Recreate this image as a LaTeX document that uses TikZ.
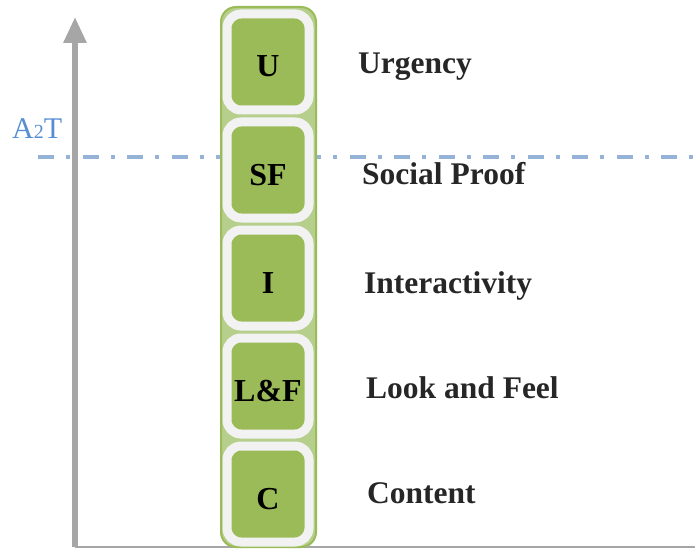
\documentclass[tikz,border=0pt]{standalone}
\usepackage{fontspec}
\setmainfont{Liberation Serif}
\usetikzlibrary{arrows.meta}
\definecolor{cellgreen}{HTML}{9BBB59}
\definecolor{columngreen}{HTML}{B7CF8C}
\definecolor{cellrim}{HTML}{F2F2F2}
\definecolor{axisgray}{HTML}{A6A6A6}
\definecolor{a2tblue}{HTML}{558ED5}
\definecolor{dashblue}{HTML}{95B3D7}
\definecolor{textgray}{HTML}{262626}
\begin{document}
\begin{tikzpicture}[x=1pt, y=-1pt,
    cell/.style={draw=cellrim, line width=9pt, fill=cellgreen, rounded corners=14pt,
      minimum width=82pt, minimum height=96pt, inner sep=0pt,
      text height=30pt, text depth=0pt, font=\fontsize{32}{32}\selectfont\bfseries},
    itemtext/.style={anchor=base west, inner sep=0pt, text=textgray,
      font=\fontsize{31.5}{31.5}\selectfont\bfseries}]
  \useasboundingbox (0, 0) rectangle (695, 548);
  \coordinate (origin) at (75, 547);
  \coordinate (top) at (75, 17);
  \coordinate (floor) at (695, 547);
  \coordinate (limit west) at (38, 157);
  \coordinate (limit east) at (695, 157);
  % threshold
  \draw [dashblue, line width=4pt, dash pattern=on 16pt off 12.25pt on 4pt off 12.25pt] (limit west) -- (limit east);
  \node [anchor=base west, inner sep=0pt, text=a2tblue, font=\fontsize{30}{30}\selectfont] (a2t) at (12, 139) {A{\fontsize{20}{20}\selectfont 2}T};
  % axes
  \draw [axisgray, line width=1.5pt] (origin) -- (floor);
  \draw [axisgray, line width=6pt, -{Triangle[width=22pt, length=26pt]}] (origin) -- (top);
  % column
  \node [draw=cellgreen, line width=2pt, fill=columngreen, rounded corners=15pt,
    minimum width=95pt, minimum height=540pt] (column) at (268.5, 277) {};
  \node [cell] (u) at (268, 62) {U};
  \node [cell] (sf) at (268, 170) {SF};
  \node [cell] (i) at (268, 278) {I};
  \node [cell] (lf) at (268, 386) {L\&F};
  \node [cell] (c) at (268, 494) {C};
  % names
  \node [itemtext] (urgency) at (358, 74) {Urgency};
  \node [itemtext] (proof) at (362, 184) {Social Proof};
  \node [itemtext] (interactivity) at (364, 293) {Interactivity};
  \node [itemtext] (look) at (366, 398) {Look and Feel};
  \node [itemtext] (content) at (367, 503) {Content};
\end{tikzpicture}
\end{document}
